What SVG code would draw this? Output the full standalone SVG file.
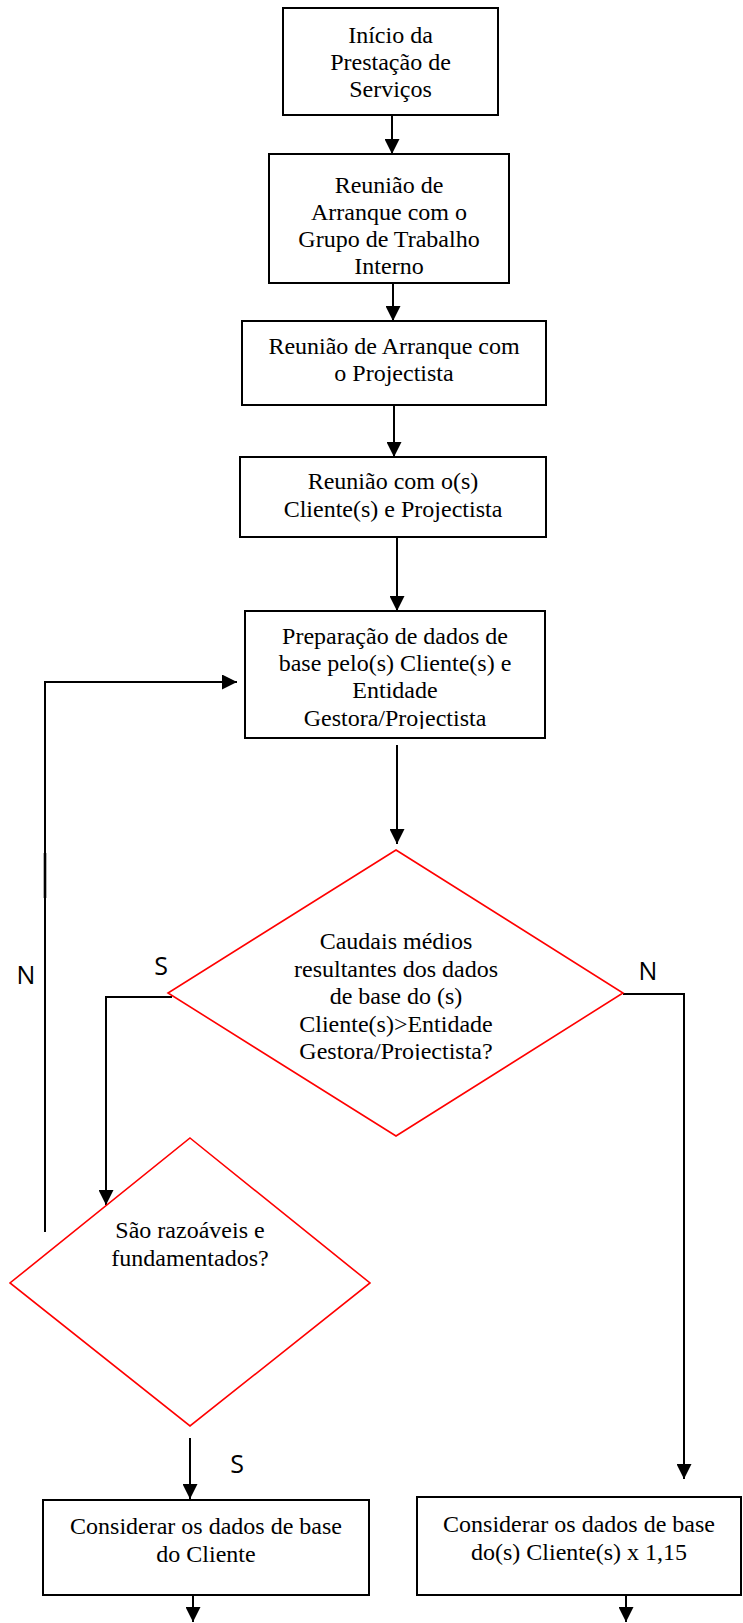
<svg xmlns="http://www.w3.org/2000/svg" width="743" height="1623" viewBox="0 0 743 1623">
  <style>
    .box { fill: #ffffff; stroke: #000000; stroke-width: 2; }
    .dec { fill: #ffffff; stroke: #ff0000; stroke-width: 1.6; }
    .lbl { font-family: "Liberation Serif", "Times New Roman", serif; font-size: 24px; fill: #000000; text-anchor: middle; }
    .yn { font-family: "Open Sans", "Noto Sans", sans-serif; font-size: 25px; fill: #000000; text-anchor: middle; }
    .wire { fill: none; stroke: #000000; stroke-width: 2; }
  </style>
  <defs>
    <marker id="arrow" viewBox="0 0 15 15" markerWidth="15" markerHeight="15" markerUnits="userSpaceOnUse" refX="15" refY="7.5" orient="auto">
      <path d="M0,0 L15,7.5 L0,15 Z" fill="#000000"/>
    </marker>
    <clipPath id="clipPrep"><rect x="245" y="611" width="300" height="118"/></clipPath>
    <clipPath id="clipCaudais"><rect x="168" y="850" width="455" height="210"/></clipPath>
  </defs>

  <!-- connectors -->
  <g id="connectors">
    <line class="wire" x1="392" y1="115" x2="392" y2="154" marker-end="url(#arrow)"/>
    <line class="wire" x1="393" y1="283" x2="393" y2="321" marker-end="url(#arrow)"/>
    <line class="wire" x1="394" y1="405" x2="394" y2="457" marker-end="url(#arrow)"/>
    <line class="wire" x1="397" y1="537" x2="397" y2="611" marker-end="url(#arrow)"/>
    <line class="wire" x1="397" y1="745" x2="397" y2="844" marker-end="url(#arrow)"/>
    <!-- S branch of first decision -->
    <polyline class="wire" points="172,997 106,997 106,1205" marker-end="url(#arrow)"/>
    <!-- N branch of first decision -->
    <polyline class="wire" points="623,994 684,994 684,1479" marker-end="url(#arrow)"/>
    <!-- N loop back to data preparation -->
    <polyline class="wire" points="45,1232 45,682 237,682" marker-end="url(#arrow)"/>
    <line x1="45" y1="853" x2="45" y2="898" stroke="#000000" stroke-width="2.6"/>
    <!-- S branch of second decision -->
    <line class="wire" x1="190" y1="1438" x2="190" y2="1499" marker-end="url(#arrow)"/>
    <!-- outgoing arrows -->
    <line class="wire" x1="193" y1="1595" x2="193" y2="1622" marker-end="url(#arrow)"/>
    <line class="wire" x1="626" y1="1595" x2="626" y2="1622" marker-end="url(#arrow)"/>
  </g>

  <g id="inicio">
    <rect class="box" x="283" y="8" width="215" height="107"/>
    <text class="lbl" x="390.5" y="43">Início da</text>
    <text class="lbl" x="390.5" y="70">Prestação de</text>
    <text class="lbl" x="390.5" y="97">Serviços</text>
  </g>

  <g id="reuniao-grupo">
    <rect class="box" x="269" y="154" width="240" height="129"/>
    <text class="lbl" x="389" y="193">Reunião de</text>
    <text class="lbl" x="389" y="220">Arranque com o</text>
    <text class="lbl" x="389" y="247">Grupo de Trabalho</text>
    <text class="lbl" x="389" y="274">Interno</text>
  </g>

  <g id="reuniao-projectista">
    <rect class="box" x="242" y="321" width="304" height="84"/>
    <text class="lbl" x="394" y="354">Reunião de Arranque com</text>
    <text class="lbl" x="394" y="381">o Projectista</text>
  </g>

  <g id="reuniao-clientes">
    <rect class="box" x="240" y="457" width="306" height="80"/>
    <text class="lbl" x="393" y="489">Reunião com o(s)</text>
    <text class="lbl" x="393" y="517">Cliente(s) e Projectista</text>
  </g>

  <g id="preparacao">
    <rect class="box" x="245" y="611" width="300" height="127"/>
    <g clip-path="url(#clipPrep)">
      <text class="lbl" x="395" y="644">Preparação de dados de</text>
      <text class="lbl" x="395" y="671">base pelo(s) Cliente(s) e</text>
      <text class="lbl" x="395" y="698">Entidade</text>
      <text class="lbl" x="395" y="726">Gestora/Projectista</text>
    </g>
  </g>

  <g id="decisao-caudais">
    <polygon class="dec" points="396,850 623,993 396,1136 168,993"/>
    <g clip-path="url(#clipCaudais)">
      <text class="lbl" x="396" y="949">Caudais médios</text>
      <text class="lbl" x="396" y="977">resultantes dos dados</text>
      <text class="lbl" x="396" y="1004">de base do (s)</text>
      <text class="lbl" x="396" y="1032">Cliente(s)&gt;Entidade</text>
      <text class="lbl" x="396" y="1059">Gestora/Projectista?</text>
    </g>
  </g>

  <g id="decisao-razoaveis">
    <polygon class="dec" points="190,1138 370,1283 190,1426 10,1283"/>
    <text class="lbl" x="190" y="1238">São razoáveis e</text>
    <text class="lbl" x="190" y="1266">fundamentados?</text>
  </g>

  <g id="dados-cliente">
    <rect class="box" x="43" y="1500" width="326" height="95"/>
    <text class="lbl" x="206" y="1534">Considerar os dados de base</text>
    <text class="lbl" x="206" y="1562">do Cliente</text>
  </g>

  <g id="dados-majorados">
    <rect class="box" x="417" y="1497" width="324" height="98"/>
    <text class="lbl" x="579" y="1532">Considerar os dados de base</text>
    <text class="lbl" x="579" y="1560">do(s) Cliente(s) x 1,15</text>
  </g>

  <g id="labels">
    <text class="yn" x="26" y="984">N</text>
    <text class="yn" x="161" y="975">S</text>
    <text class="yn" x="648" y="980">N</text>
    <text class="yn" x="237" y="1473">S</text>
  </g>
</svg>
